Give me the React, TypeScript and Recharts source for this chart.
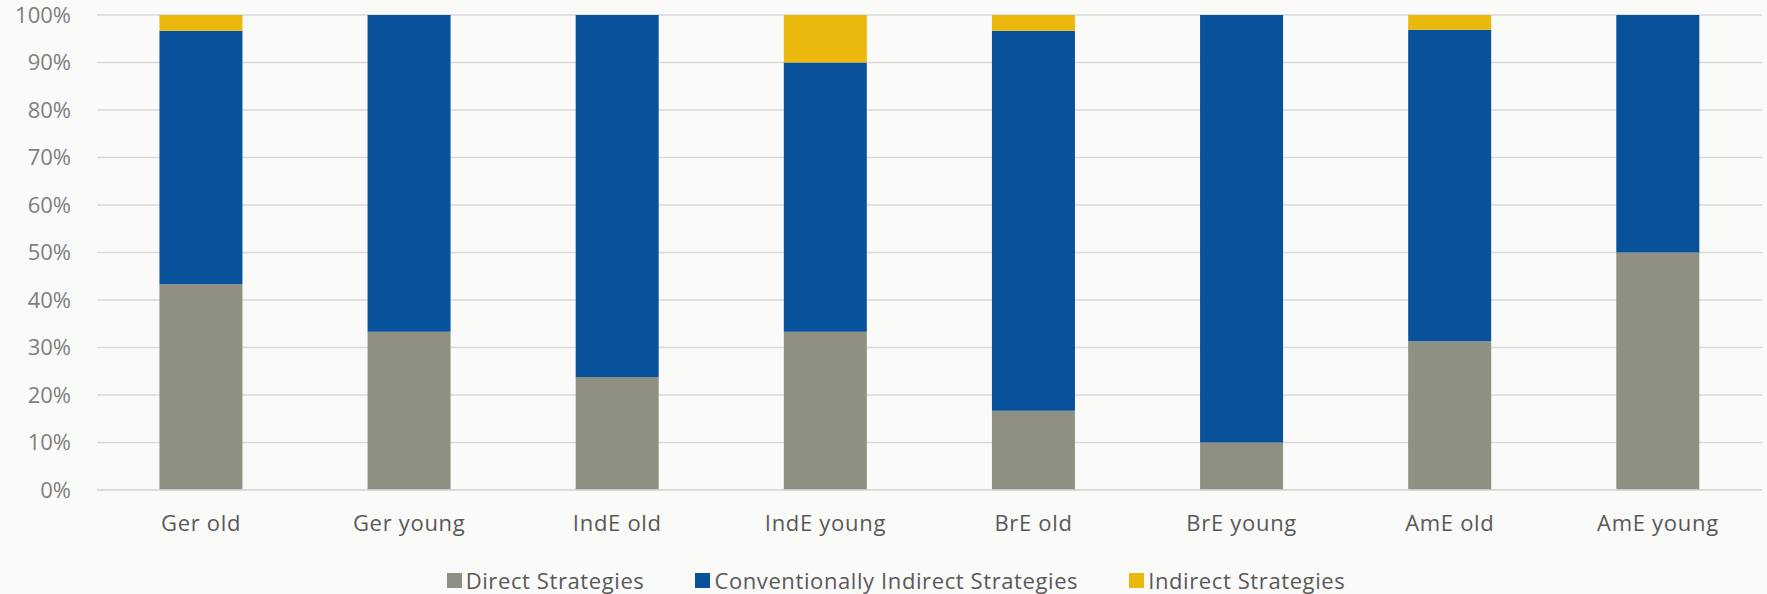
import { Bar, BarChart, CartesianGrid, Legend, XAxis, YAxis } from 'recharts'

const categories = ['Ger old', 'Ger young', 'IndE old', 'IndE young', 'BrE old', 'BrE young', 'AmE old', 'AmE young']
const directStrategies = [43.3, 33.3, 23.8, 33.3, 16.7, 10, 31.3, 50]
const conventionallyIndirect = [53.4, 66.7, 76.2, 56.7, 80, 90, 65.6, 50]
const indirectStrategies = [3.3, 0, 0, 10, 3.3, 0, 3.1, 0]
const yTicks = [0, 10, 20, 30, 40, 50, 60, 70, 80, 90, 100]

const series = [
  { key: 'direct', name: 'Direct Strategies', color: '#8F8F83' },
  { key: 'conv', name: 'Conventionally Indirect Strategies', color: '#08529C' },
  { key: 'indirect', name: 'Indirect Strategies', color: '#EBB80D' },
]

const data = categories.map((name, i) => ({
  name,
  direct: directStrategies[i],
  conv: conventionallyIndirect[i],
  indirect: indirectStrategies[i],
}))

const FONT = '"Open Sans", sans-serif'

function ChartLegend() {
  return (
    <div
      style={{
        display: 'flex',
        justifyContent: 'center',
        gap: 51,
        paddingTop: 15,
        paddingLeft: 30,
        fontFamily: FONT,
        fontSize: 22,
        lineHeight: '22px',
        letterSpacing: 0.6,
        color: '#595959',
      }}
    >
      {series.map((s) => (
        <div key={s.key} style={{ display: 'flex', alignItems: 'center', gap: 4 }}>
          <span style={{ display: 'inline-block', width: 15, height: 15, background: s.color }} />
          <span>{s.name}</span>
        </div>
      ))}
    </div>
  )
}

export default function App() {
  return (
    <div style={{ position: 'absolute', top: 0, left: 0, width: 1767, height: 594, background: '#FAFAF9' }}>
      <BarChart width={1767} height={594} data={data} margin={{ top: 15, right: 5, left: 0, bottom: 0 }} barCategoryGap="30%">
        <CartesianGrid vertical={false} stroke="#D9D9D9" strokeWidth={1.5} />
        <XAxis
          dataKey="name"
          axisLine={{ stroke: '#D9D9D9', strokeWidth: 1.5 }}
          tickLine={false}
          tickSize={0}
          tickMargin={25}
          height={64}
          interval={0}
          tick={{ fill: '#595959', fontSize: 22, fontFamily: FONT, letterSpacing: 0.7 }}
        />
        <YAxis
          domain={[0, 100]}
          ticks={yTicks}
          tickFormatter={(v: number) => `${v}%`}
          axisLine={false}
          tickLine={false}
          tickSize={0}
          tickMargin={26}
          width={97}
          tick={{ fill: '#7F7F7F', fontSize: 22, fontFamily: FONT }}
        />
        <Legend verticalAlign="bottom" height={40} content={() => <ChartLegend />} />
        {series.map((s) => (
          <Bar key={s.key} dataKey={s.key} name={s.name} stackId="a" fill={s.color} isAnimationActive={false} />
        ))}
      </BarChart>
    </div>
  )
}
